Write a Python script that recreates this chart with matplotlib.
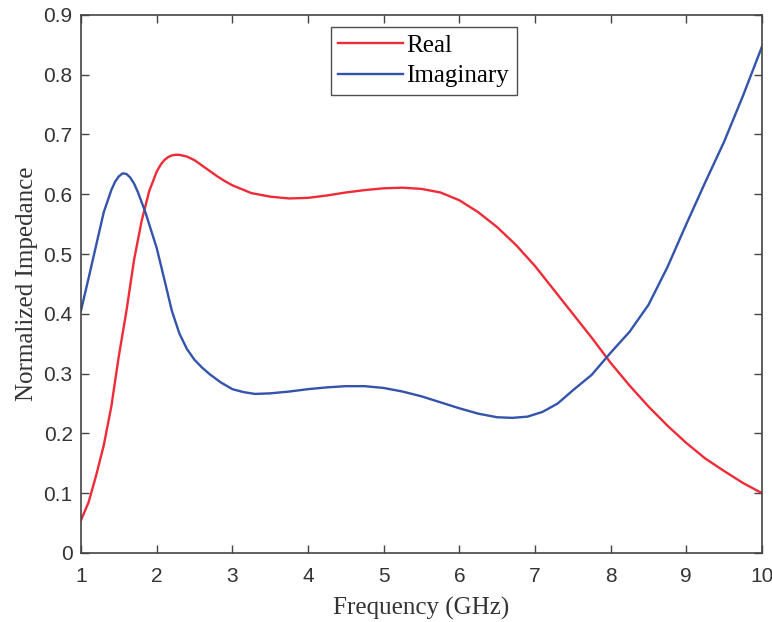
import numpy as np
import matplotlib.pyplot as plt

# Frequency (GHz) and normalized impedance
freq_real = [1.0, 1.1, 1.2, 1.3, 1.4, 1.5, 1.6, 1.7, 1.8, 1.9, 2.0, 2.05, 2.1,
             2.15, 2.2, 2.25, 2.3, 2.4, 2.5, 2.6, 2.7, 2.8, 2.9, 3.0, 3.25,
             3.5, 3.75, 4.0, 4.25, 4.5, 4.75, 5.0, 5.25, 5.5, 5.75, 6.0, 6.25,
             6.5, 6.75, 7.0, 7.25, 7.5, 7.75, 8.0, 8.25, 8.5, 8.75, 9.0, 9.25,
             9.5, 9.75, 10.0]
real = [0.055, 0.085, 0.13, 0.18, 0.245, 0.33, 0.405, 0.49, 0.555, 0.605,
        0.638, 0.649, 0.657, 0.662, 0.665, 0.666, 0.666, 0.663, 0.657, 0.648,
        0.639, 0.630, 0.622, 0.615, 0.602, 0.596, 0.593, 0.594, 0.598, 0.603,
        0.607, 0.610, 0.611, 0.609, 0.603, 0.590, 0.570, 0.545, 0.515, 0.48,
        0.44, 0.40, 0.36, 0.318, 0.28, 0.245, 0.213, 0.184, 0.158, 0.137,
        0.117, 0.100]

freq_imag = [1.0, 1.1, 1.2, 1.3, 1.4, 1.45, 1.5, 1.55, 1.6, 1.65, 1.7, 1.75,
             1.85, 2.0, 2.1, 2.2, 2.3, 2.4, 2.5, 2.6, 2.7, 2.85, 3.0, 3.15,
             3.3, 3.5, 3.75, 4.0, 4.25, 4.5, 4.75, 5.0, 5.25, 5.5, 5.75, 6.0,
             6.25, 6.5, 6.7, 6.9, 7.1, 7.3, 7.5, 7.75, 8.0, 8.25, 8.5, 8.75,
             9.0, 9.25, 9.5, 9.75, 10.0]
imag = [0.406, 0.46, 0.515, 0.57, 0.607, 0.621, 0.630, 0.635, 0.634, 0.628,
        0.618, 0.604, 0.570, 0.51, 0.458, 0.405, 0.367, 0.341, 0.323, 0.310,
        0.299, 0.285, 0.274, 0.269, 0.266, 0.267, 0.270, 0.274, 0.277, 0.279,
        0.279, 0.276, 0.270, 0.262, 0.252, 0.242, 0.233, 0.227, 0.226, 0.228,
        0.236, 0.250, 0.272, 0.298, 0.335, 0.37, 0.415, 0.478, 0.55, 0.62,
        0.688, 0.765, 0.847]

xticks = np.arange(1, 11)
yticks = np.round(np.arange(0, 0.91, 0.1), 1)

plt.rcParams['font.family'] = 'Liberation Serif'

fig = plt.figure(figsize=(7.72, 6.22), dpi=100)
ax = fig.add_axes([0.105, 0.111, 0.882, 0.865])

ax.plot(freq_real, real, color='#ee2b36', linewidth=1.7, label='Real')
ax.plot(freq_imag, imag, color='#3353ac', linewidth=1.7, label='Imaginary')

ax.set_xlim(1, 10)
ax.set_ylim(0, 0.9)
ax.set_xticks(xticks)
ax.set_yticks(yticks)
ax.set_xticklabels([str(t) for t in xticks], family='Liberation Sans', fontsize=15, color='#333333')
ax.set_yticklabels(['0' if t == 0 else f'{t:.1f}' for t in yticks], family='Liberation Sans', fontsize=15, color='#333333')
ax.tick_params(direction='in', length=6, width=1, color='#444444',
               top=True, right=True)
ax.tick_params(axis='x', pad=10)
ax.tick_params(axis='y', pad=6)
for s in ax.spines.values():
    s.set_color('#444444')
    s.set_linewidth(1.2)

ax.set_xlabel('Frequency (GHz)', fontsize=18, color='#333333', labelpad=8)
ax.set_ylabel('Normalized Impedance', fontsize=18, color='#333333', labelpad=4)

leg = ax.legend(loc='upper left', bbox_to_anchor=(0.367, 0.978), borderaxespad=0,
                fontsize=18, frameon=True, fancybox=False, handlelength=2.6,
                handletextpad=0.12, borderpad=0.3, labelspacing=0.32)
leg.get_frame().set_edgecolor('#222222')
leg.get_frame().set_linewidth(1.0)

fig.savefig('out.png', dpi=100)
